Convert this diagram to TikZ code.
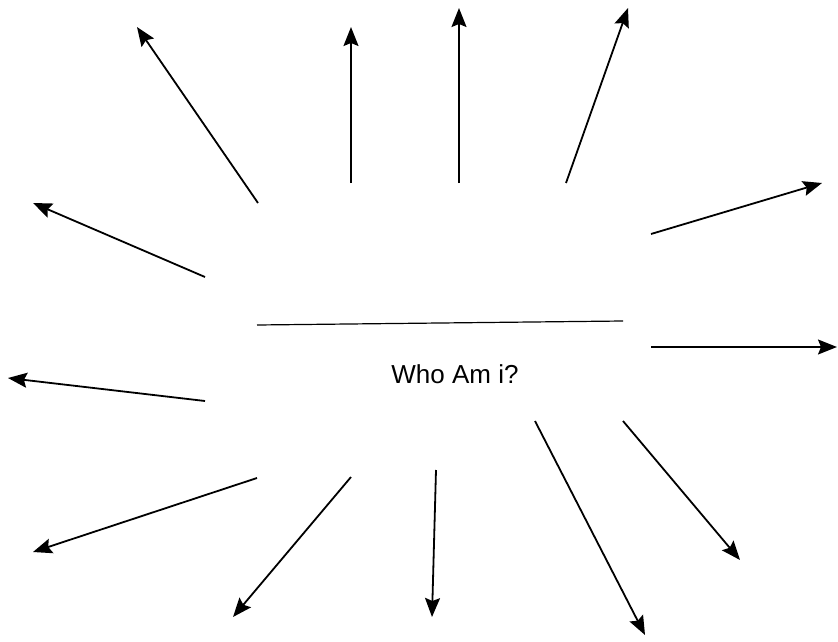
\documentclass[tikz,border=0pt]{standalone}
\usepackage{fontspec}
\setmainfont{Liberation Sans}
\usetikzlibrary{arrows.meta}
\begin{document}
\begin{tikzpicture}[x=1pt,y=-1pt,
  ray/.style={line width=1.8pt,-{Stealth[length=19pt,width=15pt,inset=3pt]}},
  bar/.style={line width=1.2pt}]
\useasboundingbox (0,0) rectangle (838,642);
\node[font=\fontsize{26}{30}\selectfont,inner sep=0pt] (t) at (455,374) {Who Am i?};
\coordinate (l1) at (257,325); \coordinate (l2) at (623,321);
\draw[bar] (l1) -- (l2);
\coordinate (a1s) at (258,203); \coordinate (a1e) at (137,27);
\coordinate (a2s) at (351,183); \coordinate (a2e) at (351,27);
\coordinate (a3s) at (459,183); \coordinate (a3e) at (459,8);
\coordinate (a4s) at (566,183); \coordinate (a4e) at (628,8);
\coordinate (a5s) at (651,234); \coordinate (a5e) at (822,183);
\coordinate (a6s) at (651,347); \coordinate (a6e) at (837,347);
\coordinate (a7s) at (623,421); \coordinate (a7e) at (740,560);
\coordinate (a8s) at (535,421); \coordinate (a8e) at (645,635);
\coordinate (a9s) at (436,470); \coordinate (a9e) at (432,617);
\coordinate (a10s) at (351,477); \coordinate (a10e) at (233,617);
\coordinate (a11s) at (257,478); \coordinate (a11e) at (33,552);
\coordinate (a12s) at (205,401); \coordinate (a12e) at (8,378);
\coordinate (a13s) at (205,277); \coordinate (a13e) at (33,203);
\foreach \i in {1,...,13} {\draw[ray] (a\i s) -- (a\i e);}
\end{tikzpicture}
\end{document}
